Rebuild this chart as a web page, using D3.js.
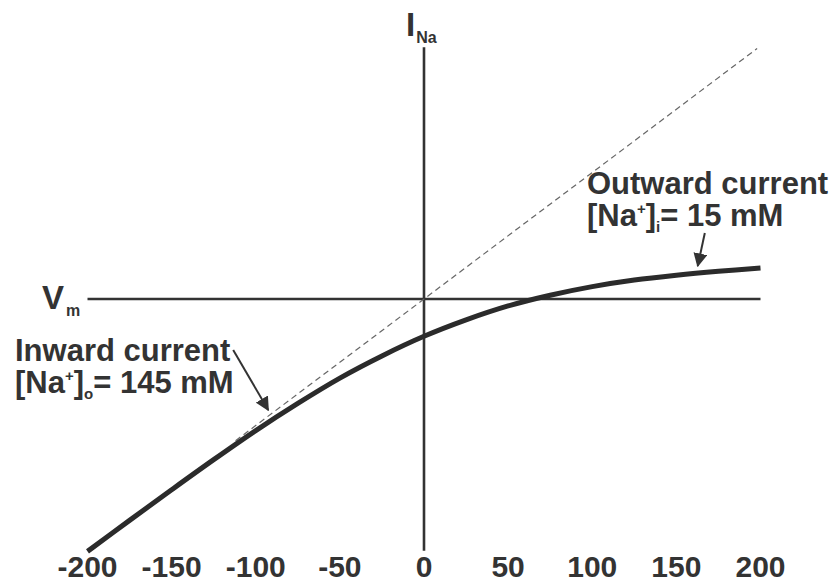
<!DOCTYPE html>
<html>
<head>
<meta charset="utf-8">
<script src="https://cdn.jsdelivr.net/npm/d3@7"></script>
<style>
  html, body { margin: 0; padding: 0; background: #fff; }
  svg { display: block; }
  text { font-family: "Liberation Sans", Arial, Helvetica, sans-serif; font-weight: bold; fill: #333; }
</style>
</head>
<body>
<svg id="chart" width="837" height="583"></svg>
<script>
// ---- data ----
const xTicks = [-200, -150, -100, -50, 0, 50, 100, 150, 200];
const voltage = [-200, -175, -150, -125, -100, -75, -50, -25, 0, 25, 50, 75, 100, 125, 150, 175, 200];
const current = [-199.5, -175, -150.8, -127, -104, -82.5, -62.5, -45, -29.5, -16.5, -5.5, 3, 9.8, 15, 18.8, 21.9, 24.5];
const dashedV = [-112, 198];          // asymptote I = V (slope at very negative Vm)
const arrowIn = [[-113.4, -40.3], [-92.6, -87.7]];
const arrowOut = [[166.9, 52.2], [162.7, 26.1]];

const svg = d3.select("#chart");
const x = d3.scaleLinear().domain([-200, 200]).range([87.5, 760.5]);
const y = d3.scaleLinear().domain([-200, 200]).range([552, 46]);

const ink = "#333";

// arrow marker
const defs = svg.append("defs");
defs.append("marker")
  .attr("id", "head").attr("viewBox", "0 0 10 10")
  .attr("refX", 9).attr("refY", 5)
  .attr("markerWidth", 7).attr("markerHeight", 7)
  .attr("markerUnits", "strokeWidth")
  .attr("orient", "auto")
  .append("path").attr("d", "M0,0 L10,5 L0,10 z").attr("fill", ink);

// axes lines
svg.append("line")
  .attr("x1", x(-200)).attr("x2", x(200))
  .attr("y1", y(0)).attr("y2", y(0))
  .attr("stroke", ink).attr("stroke-width", 2.6);
svg.append("line")
  .attr("x1", x(0)).attr("x2", x(0))
  .attr("y1", y(199)).attr("y2", y(-199))
  .attr("stroke", ink).attr("stroke-width", 2.6);

// dashed asymptote
svg.append("line")
  .attr("x1", x(dashedV[0])).attr("y1", y(dashedV[0]))
  .attr("x2", x(dashedV[1])).attr("y2", y(dashedV[1]))
  .attr("stroke", "#666").attr("stroke-width", 1.2)
  .attr("stroke-dasharray", "6,4");

// I-V curve
const pts = voltage.map((v, i) => [v, current[i]]);
svg.append("path")
  .datum(pts)
  .attr("d", d3.line().x(d => x(d[0])).y(d => y(d[1])).curve(d3.curveCatmullRom.alpha(0.5)))
  .attr("fill", "none").attr("stroke", "#2b2b2b").attr("stroke-width", 5);

// arrows
[arrowIn, arrowOut].forEach(a => {
  svg.append("line")
    .attr("x1", x(a[0][0])).attr("y1", y(a[0][1]))
    .attr("x2", x(a[1][0])).attr("y2", y(a[1][1]))
    .attr("stroke", ink).attr("stroke-width", 2)
    .attr("marker-end", "url(#head)");
});

// tick labels
svg.append("g").selectAll("text").data(xTicks).enter().append("text")
  .attr("x", d => x(d)).attr("y", 577)
  .attr("text-anchor", "middle")
  .attr("font-size", 30)
  .text(d => d);

// axis labels
const iLab = svg.append("text").attr("x", 406).attr("y", 36).attr("font-size", 33);
iLab.append("tspan").text("I");
iLab.append("tspan").attr("font-size", 16).attr("dx", 1).attr("dy", 7).text("Na");

const vLab = svg.append("text").attr("x", 42).attr("y", 309).attr("font-size", 33);
vLab.append("tspan").text("V");
vLab.append("tspan").attr("font-size", 16).attr("dx", 2).attr("dy", 7).text("m");

// annotations
function concLabel(x0, yBase, title, sub, rest) {
  svg.append("text").attr("x", x0).attr("y", yBase).attr("font-size", 31).text(title);
  const t = svg.append("text").attr("x", x0).attr("y", yBase + 32).attr("font-size", 31);
  t.append("tspan").text("[Na");
  t.append("tspan").attr("font-size", 15).attr("dy", -12).text("+");
  t.append("tspan").attr("dy", 12).text("]");
  t.append("tspan").attr("font-size", 15).attr("dy", 6).text(sub);
  t.append("tspan").attr("dy", -6).text(rest);
}
concLabel(15, 361, "Inward current", "o", "= 145 mM");
concLabel(587, 194, "Outward current", "i", "= 15 mM");
</script>
</body>
</html>
